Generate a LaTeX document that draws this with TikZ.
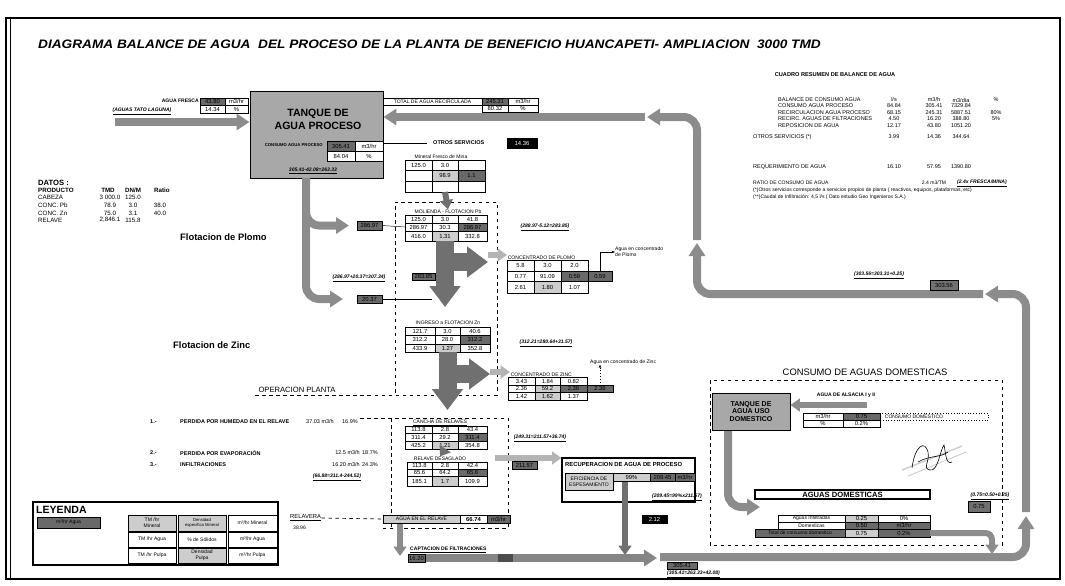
\documentclass[tikz,border=0pt]{standalone}
\usepackage{fontspec}
\setmainfont{Liberation Sans}
\usetikzlibrary{arrows.meta, calc, positioning}
\definecolor{cTanque}{RGB}{168,168,168}
\definecolor{cBanda}{RGB}{140,140,140}
\definecolor{cFlecha}{RGB}{112,112,112}
\definecolor{cOscura}{RGB}{105,105,105}
\definecolor{cClara}{RGB}{205,205,205}
\definecolor{cLuz}{RGB}{180,180,180}
\newcommand{\fa}{\fontsize{5}{5.6}\selectfont}
\newcommand{\fb}{\fontsize{4.3}{4.9}\selectfont}
\newcommand{\fd}{\fontsize{5.3}{6}\selectfont}
\newcommand{\fr}{\fontsize{4.7}{5.3}\selectfont}
\newcommand{\ecu}[1]{\underline{\bfseries\itshape #1}}
% celda de tabla: [estilo]{nombre}{x1}{y1}{x2}{y2}{texto}
\newcommand{\cel}[7][]{%
  \node[celda, #1, minimum width={(#5-#3)*0.3mm}, minimum height={(#6-#4)*0.3mm}]
    (#2) at ({(#3+#5)/2},{(#4+#6)/2}) {#7};}
\tikzset{
  celda/.style={draw, line width=0.35pt, inner sep=0pt, outer sep=0pt,
                font=\fa, align=center},
  oscura/.style={fill=cOscura},
  clara/.style={fill=cClara},
  negra/.style={fill=black, text=white},
  txt/.style={inner sep=0pt, font=\fb, anchor=west},
  ecua/.style={inner sep=0pt, font=\fb},
  tanque/.style={draw, fill=cTanque, line width=0.8pt, inner sep=0pt},
  banda/.style={line width=2.4mm, draw=cBanda,
                -{Triangle[width=4.8mm,length=3.9mm]}, rounded corners=4mm},
  bandaS/.style={line width=1.8mm, draw=cBanda,
                 -{Triangle[width=3.8mm,length=2.8mm]}},
  bandaT/.style={line width=5.4mm, draw=cFlecha,
                 -{Triangle[width=9mm,length=6.3mm]}},
  bandaC/.style={line width=2mm, draw=cLuz,
                 -{Triangle[width=3.8mm,length=2.8mm]}},
  discont/.style={line width=0.6pt, dash pattern=on 3pt off 3pt},
  linea/.style={line width=0.4pt},
}
\begin{document}
\begin{tikzpicture}[x=0.3mm, y=-0.3mm]
\useasboundingbox (0,0) rectangle (1065,585);

%% ============================================================
%% MARCO Y TITULO
%% ============================================================
\draw[line width=1.2pt] (6,18) rectangle (1060,579);
\draw[line width=0.6pt] (10,18) -- (10,579);
\node[anchor=west, inner sep=0pt, font=\fontsize{10.5}{12}\selectfont\bfseries\itshape]
  (titulo) at (38,44)
  {\scalebox{1.11}[1]{DIAGRAMA BALANCE DE AGUA\ \ DEL PROCESO DE LA PLANTA DE BENEFICIO HUANCAPETI- AMPLIACION\ \ 3000 TMD}};

%% ============================================================
%% TANQUE DE AGUA PROCESO
%% ============================================================
\node[tanque, minimum width=39.9mm, minimum height=26.1mm] (tanque) at (316.5,134.5) {};
\node[inner sep=0pt, align=center, font=\fontsize{9}{11}\selectfont\bfseries]
  (tanqueTit) at (318,119) {TANQUE DE\\AGUA PROCESO};
\node[anchor=east, inner sep=0pt, font=\fontsize{3.6}{4}\selectfont\bfseries]
  (consumo) at (323,145) {CONSUMO AGUA PROCESO};
\cel[oscura]{co11}{327}{141}{355}{151}{305.41}
\cel[fill=white]{co12}{355}{141}{383}{151}{m3/hr}
\cel[fill=white]{co21}{327}{151}{355}{161}{84.04}
\cel[fill=white]{co22}{355}{151}{383}{161}{\%}
\node[ecua] (eqTanque) at (313,171) {\ecu{305.41-42.08=263.33}};

% agua fresca
\node[txt, anchor=east, font=\fb\bfseries] (fresca) at (199,101) {AGUA FRESCA};
\cel[oscura]{af11}{200}{98}{225}{105.5}{43.80}
\cel{af12}{225}{98}{248}{105.5}{m3/hr}
\cel{af21}{200}{105.5}{225}{113}{14.34}
\cel{af22}{225}{105.5}{248}{113}{\%}
\node[ecua] (laguna) at (142,111) {\ecu{(AGUAS TATO LAGUNA)}};
\coordinate (afIni) at (115,122);
\draw[banda] (afIni) -- (afIni -| tanque.west);

% agua recirculada
\cel[font=\fb]{rc11}{383}{98}{482}{105}{TOTAL DE AGUA RECIRCULADA}
\cel[oscura]{rc12}{482}{98}{508}{105}{245.31}
\cel{rc13}{508}{98}{538}{105}{m3/hr}
\cel{rc22}{482}{105}{508}{112}{80.32}
\cel{rc23}{508}{105}{538}{112}{\%}

% otros servicios
\coordinate (osFin) at (427,143);
\draw[linea] (osFin -| tanque.east) -- (osFin);
\node[txt, font=\fr\bfseries] (otros) at (433,143) {OTROS SERVICIOS};
\cel[negra]{os1}{507}{138}{537}{148}{14.36}

%% ============================================================
%% DATOS
%% ============================================================
\node[txt, font=\fontsize{6.5}{7}\selectfont\bfseries] (datos) at (38,183) {DATOS :};
\node[txt, font=\fd\bfseries] (producto) at (38,190) {PRODUCTO};
\node[inner sep=0pt, font=\fd\bfseries] (hTmd) at (108,190) {TMD};
\node[inner sep=0pt, font=\fd\bfseries] (hDn) at (133,190) {DN/M};
\node[inner sep=0pt, font=\fd\bfseries] (hRat) at (162,190) {Ratio};
\foreach \nom/\yy/\prod/\tmd/\dn/\rat in
  {cab/197/CABEZA/3 000.0/125.0/, cpb/205/CONC. Pb/78.9/3.0/38.0,
   czn/213/CONC. Zn/75.0/3.1/40.0, rel/220/RELAVE/{2,846.1}/115.8/}{
  \node[txt, font=\fd] (d\nom) at (38,\yy) {\prod};
  \node[inner sep=0pt, font=\fd] (t\nom) at (110,\yy) {\tmd};
  \node[inner sep=0pt, font=\fd] (n\nom) at (133,\yy) {\dn};
  \node[inner sep=0pt, font=\fd] (r\nom) at (160,\yy) {\rat};
}

%% ============================================================
%% CUADRO RESUMEN
%% ============================================================
\node[inner sep=0pt, font=\fontsize{4.8}{5.5}\selectfont\bfseries] (resumen) at (835,75)
  {CUADRO RESUMEN DE BALANCE DE AGUA};
\foreach \nom/\xx/\yy/\lab/\ls/\mh/\md/\pc in
  {s0/778/100/BALANCE DE CONSUMO AGUA/{l/s}/{m3/h}/{m3/día}/\%,
   s1/778/106/CONSUMO AGUA PROCESO/84.84/305.41/7329.84/,
   s2/778/113/RECIRCULACION AGUA PROCESO/68.15/245.31/5887.51/80\%,
   s3/778/119/RECIRC.\ AGUAS DE FILTRACIONES/4.50/16.20/388.80/5\%,
   s4/778/126/REPOSICION DE AGUA/12.17/43.80/1051.20/,
   s5/753/137/OTROS SERVICIOS (*)/3.99/14.36/344.64/,
   s6/753/167/REQUERIMIENTO DE AGUA/16.10/57.95/1390.80/}{
  \node[txt, font=\fr] (\nom a) at (\xx,\yy) {\lab};
  \node[inner sep=0pt, font=\fr] (\nom b) at (894,\yy) {\ls};
  \node[inner sep=0pt, font=\fr] (\nom c) at (934,\yy) {\mh};
  \node[inner sep=0pt, font=\fr] (\nom d) at (961,\yy) {\md};
  \node[inner sep=0pt, font=\fr] (\nom e) at (996,\yy) {\pc};
}
\node[txt] (ratio) at (753,183) {RATIO DE CONSUMO DE AGUA};
\node[inner sep=0pt, font=\fb] (ratioV) at (934,183) {2.4 m3/TM};
\node[ecua, anchor=west] (ratioE) at (957,183) {\ecu{(2.4x FRESCA/MINA)}};
\node[txt] (nota1) at (753,190)
  {(*)Otros servicios corresponde a servicios propios de planta ( reactivos, equipos, plataformas, etc)};
\node[txt] (nota2) at (753,197)
  {(**)Caudal de Infiltración: 4,5 l/s ( Dato estudio Geo Ingenieros S.A.)};

%% ============================================================
%% RECIRCULACION (banda grande)
%% ============================================================
\coordinate (sA0) at (660,557);  \coordinate (sA1) at (1026,557); \coordinate (sA2) at (1026,516);
\coordinate (sB0) at (1026,512); \coordinate (sB1) at (1026,294); \coordinate (sB2) at (985,294);
\coordinate (sC0) at (983,294);  \coordinate (sC1) at (697,294);  \coordinate (sC2) at (697,243);
\coordinate (sD0) at (697,240);  \coordinate (sD1) at (697,117);  \coordinate (sD2) at (647,117);
\coordinate (sE0) at (645,117);
\draw[banda] (sA0) -- (sA1) -- (sA2);
\draw[banda] (sB0) -- (sB1) -- (sB2);
\draw[banda] (sC0) -- (sC1) -- (sC2);
\draw[banda] (sD0) -- (sD1) -- (sD2);
\draw[banda] (sE0) -- (sE0 -| tanque.east);
\node[ecua] (eqRec) at (879,275) {\ecu{(303.56=303.31+0.25)}};
\cel[fill=cFlecha]{rb1}{930}{280}{958}{290}{303.56}
\node[ecua] (eqDom) at (990,496) {\ecu{(0.75=0.50+0.25)}};
\cel[fill=cFlecha]{db1}{968}{501}{990}{512}{0.75}

%% ============================================================
%% FLOTACION DE PLOMO
%% ============================================================
\node[txt, font=\fontsize{8}{9}\selectfont\bfseries] (fPb) at (180,237) {Flotacion de Plomo};
\node[txt, font=\fontsize{8}{9}\selectfont\bfseries] (fZn) at (173,345) {Flotacion de Zinc};
\draw[discont] (255,395) -- (497,395) -- (497,202) -- (395,202) -- (395,395);
\node[inner sep=0pt, font=\fontsize{6.5}{7}\selectfont] (opPlanta) at (297,390) {OPERACION PLANTA};

\node[inner sep=0pt, font=\fb] (mineral) at (441,157) {Mineral Fresco de Mina};
\cel{mf11}{405}{160}{432}{170}{125.0}
\cel{mf12}{432}{160}{458}{170}{3.0}
\cel{mf13}{458}{160}{485}{170}{}
\cel{mf21}{405}{170}{432}{181}{}
\cel[clara]{mf22}{432}{170}{458}{181}{98.9}
\cel[oscura]{mf23}{458}{170}{485}{181}{1.1}
\cel{mf31}{405}{181}{432}{192}{}
\cel{mf32}{432}{181}{458}{192}{}
\cel{mf33}{458}{181}{485}{192}{}

\node[inner sep=0.5pt, font=\fb] (moli) at (448,212) {MOLIENDA - FLOTACION Pb};
\draw[bandaS, draw=cFlecha] (mf32.south) -- (moli.north);
\cel{mo11}{405}{215}{432}{223}{125.0}
\cel{mo12}{432}{215}{458}{223}{3.0}
\cel{mo13}{458}{215}{487}{223}{41.8}
\cel{mo21}{405}{223}{432}{231}{286.97}
\cel{mo22}{432}{223}{458}{231}{30.3}
\cel[oscura]{mo23}{458}{223}{487}{231}{286.97}
\cel{mo31}{405}{231}{432}{241}{416.0}
\cel[clara]{mo32}{432}{231}{458}{241}{1.31}
\cel{mo33}{458}{231}{487}{241}{332.8}

% bajada desde el tanque
\coordinate (b0) at (306,178);
\coordinate (b1) at (306,212);
\coordinate (b2) at (306,299);
\cel[oscura]{bx1}{357}{221}{382}{230}{286.97}
\cel[oscura]{bx2}{357}{295}{382}{303}{20.37}
\draw[banda] (b1) -- (b1 |- bx1) -- ($(bx1.west)+(-8,0)$);
\draw[banda] (b0) -- (b2) -- ($(bx2.west |- b2)+(-14,0)$);
\draw[linea] (bx1.east) -- (mo21.west);
\node[ecua] (eqPb1) at (359,278) {\ecu{(286.97+20.37=307.34)}};
\cel[oscura]{desc}{412}{273}{435}{280}{283.85}

% flecha T plomo
\coordinate (tpbB) at (445,307);
\coordinate (tpbC) at (445,262);
\coordinate (tpbD) at (488,262);
\draw[bandaT] (tpbC) -- (tpbD);
\draw[bandaT] (mo32.south) -- (tpbB);
\draw[linea] (bx2.east) -- (bx2.east -| mo31.east);

% concentrado de plomo
\node[anchor=south west, inner sep=0.5pt, font=\fb] (cpTit) at (507,260) {CONCENTRADO DE PLOMO};
\coordinate (cpa) at (488,255);
\draw[bandaC] (cpa) -- (cpa -| cpTit.west);
\cel{pc11}{507}{260}{534}{271}{5.8}
\cel{pc12}{534}{260}{561}{271}{3.0}
\cel{pc13}{561}{260}{588}{271}{2.0}
\cel{pc21}{507}{271}{534}{281}{0.77}
\cel{pc22}{534}{271}{561}{281}{91.09}
\cel[oscura]{pc23}{561}{271}{588}{281}{0.59}
\cel[oscura]{pc24}{588}{271}{612}{281}{0.59}
\cel{pc31}{507}{281}{534}{293}{2.61}
\cel[clara]{pc32}{534}{281}{561}{293}{1.80}
\cel{pc33}{561}{281}{588}{293}{1.07}
\node[txt, align=left] (aguaPb) at (615,252) {Agua en concentrado\\de Plomo};
\draw[linea, -{Stealth[length=3pt]}] (pc24.north) |- (aguaPb.west);
\node[ecua] (eqPb2) at (545,227) {\ecu{(288.97-5.12=283.85)}};

%% ============================================================
%% FLOTACION DE ZINC
%% ============================================================
\node[inner sep=0.5pt, font=\fb] (znTit) at (448,323) {INGRESO a FLOTACION Zn};
\cel{zn11}{405}{327}{435}{335}{121.7}
\cel{zn12}{435}{327}{460}{335}{3.0}
\cel{zn13}{460}{327}{490}{335}{40.6}
\cel{zn21}{405}{335}{435}{344}{312.2}
\cel{zn22}{435}{335}{460}{344}{28.0}
\cel[oscura]{zn23}{460}{335}{490}{344}{312.2}
\cel{zn31}{405}{344}{435}{352}{433.9}
\cel[clara]{zn32}{435}{344}{460}{352}{1.27}
\cel{zn33}{460}{344}{490}{352}{352.8}
\coordinate (tznB) at (447.5,410);
\coordinate (tznC) at (447.5,374);
\coordinate (tznD) at (490,374);
\draw[bandaT] (tznC) -- (tznD);
\draw[bandaT] (zn32.south) -- (tznB);
\node[ecua] (eqZn1) at (546,343) {\ecu{(312.21=280.64+31.57)}};

\node[anchor=south west, inner sep=0.5pt, font=\fb] (czTit) at (510,377) {CONCENTRADO DE ZINC};
\coordinate (cza) at (490,372);
\draw[bandaC] (cza) -- (cza -| czTit.west);
\cel{zc11}{508}{377}{535}{385}{3.43}
\cel{zc12}{535}{377}{560}{385}{1.84}
\cel{zc13}{560}{377}{587}{385}{0.82}
\cel{zc21}{508}{385}{535}{392}{2.36}
\cel[clara]{zc22}{535}{385}{560}{392}{59.2}
\cel[oscura]{zc23}{560}{385}{587}{392}{2.36}
\cel[oscura]{zc24}{587}{385}{613}{392}{2.36}
\cel{zc31}{508}{392}{535}{400}{1.42}
\cel[clara]{zc32}{535}{392}{560}{400}{1.62}
\cel{zc33}{560}{392}{587}{400}{1.37}
\node[txt] (aguaZn) at (590,362) {Agua en concentrado de Zinc};
\draw[linea, dotted, -{Stealth[length=3pt]}] (zc24.north) -- (zc24.north |- aguaZn.south);

%% ============================================================
%% CANCHA DE RELAVES
%% ============================================================
\draw[discont] (360,418) -- (508,418) -- (508,528) -- (383,528);
\draw[discont] (391,418) -- (391,528);
\node[inner sep=0.5pt, font=\fb] (caTit) at (440,423) {\underline{CANCHA DE RELAVES}};
\cel{ca11}{405}{426}{432}{433}{113.8}
\cel{ca12}{432}{426}{458}{433}{2.8}
\cel{ca13}{458}{426}{487}{433}{43.4}
\cel{ca21}{405}{433}{432}{441}{311.4}
\cel{ca22}{432}{433}{458}{441}{29.2}
\cel[oscura]{ca23}{458}{433}{487}{441}{311.4}
\cel{ca31}{405}{441}{432}{449}{425.2}
\cel[clara]{ca32}{432}{441}{458}{449}{1.21}
\cel{ca33}{458}{441}{487}{449}{354.8}
\node[ecua] (eqCa) at (540,438) {\ecu{(249.31=211.57+36.74)}};

\node[inner sep=0.5pt, font=\fb] (rdTit) at (440,459) {RELAVE DESAGLADO};
\draw[bandaS, draw=cFlecha] (ca32.south) -- (rdTit.north);
\cel{rd11}{407}{462}{432}{469}{113.8}
\cel{rd12}{432}{462}{458}{469}{2.8}
\cel{rd13}{458}{462}{487}{469}{42.4}
\cel{rd21}{407}{469}{432}{476}{65.6}
\cel{rd22}{432}{469}{458}{476}{64.2}
\cel[oscura]{rd23}{458}{469}{487}{476}{65.6}
\cel{rd31}{407}{476}{432}{486}{185.1}
\cel[clara]{rd32}{432}{476}{458}{486}{1.7}
\cel{rd33}{458}{476}{487}{486}{109.9}

\cel[clara, font=\fb]{ar1}{383}{515}{460}{523}{AGUA EN EL RELAVE}
\cel[font=\fa\bfseries]{ar2}{460}{515}{487}{523}{66.74}
\cel[oscura]{ar3}{487}{515}{510}{523}{m3/hr}
\node[txt, font=\fa] (relavera) at (290,518) {\underline{RELAVERA}};
\draw[discont] (relavera.east) -- (ar1.west);
\node[txt] (relPc) at (293,528) {38.96};

% perdidas
\foreach \nom/\yy/\num/\lab/\val/\vx/\pc/\px in
  {p1/422/1.-/PERDIDA POR HUMEDAD EN EL RELAVE/{37.03 m3/h}/334/16.9\%/358,
   p2/453/2.-/PERDIDA POR EVAPORACIÓN/{12.5 m3/h}/360/18.7\%/378,
   p3/465/3.-/INFILTRACIONES/{16.20 m3/h}/360/24.3\%/378}{
  \node[txt, font=\fr\bfseries] (\nom n) at (150,\yy) {\num};
  \node[txt, font=\fr\bfseries] (\nom t) at (180,\yy) {\lab};
  \node[txt, font=\fr, anchor=east] (\nom v) at (\vx,\yy) {\val};
  \node[txt, font=\fr, anchor=east] (\nom p) at (\px,\yy) {\pc};
}
\node[ecua] (eqPer) at (337,477) {\ecu{(66.88=311.4-244.52)}};

%% ============================================================
%% RECUPERACION DE AGUA DE PROCESO
%% ============================================================
\node[draw, line width=1pt, fill=white, minimum width=39.9mm, minimum height=13.2mm,
      inner sep=0pt] (rec) at (628.5,480) {};
\node[txt, font=\fa\bfseries] (recTit) at (565,464) {RECUPERACION DE AGUA DE PROCESO};
\cel[clara, font=\fb]{ef1}{565}{473}{613}{490}{EFICIENCIA DE\\ESPESAMIENTO}
\cel[clara]{re1}{613}{473}{650}{481}{99\%}
\cel[oscura]{re2}{650}{473}{675}{481}{209.45}
\cel[oscura]{re3}{675}{473}{695}{481}{m3/hr}
\node[ecua, anchor=east] (eqRe) at (702,497) {\ecu{(209.45=99\%x211.57)}};
\coordinate (raA) at (495,458);
\draw[bandaC] (raA) -- (raA -| rec.west);
\cel[oscura]{ra1}{512}{461}{537}{469}{211.57}
\coordinate (baA) at (625,482);
\coordinate (baB) at (625,555);
\draw[bandaS, draw=cFlecha] (baA) -- (baB);
\cel[negra]{rn1}{642}{515}{667}{523}{2.12}

% captacion de filtraciones
\coordinate (capA) at (400,524);
\coordinate (capB) at (400,556);
\draw[bandaS] (capA) -- (capB);
\coordinate (cfA) at (408,558);
\coordinate (cfB) at (657,558);
\draw[banda, draw=cFlecha!85] (cfA) -- (cfB);
\node[anchor=south west, inner sep=0pt, font=\fb\bfseries] (capTit) at (410,553)
  {\underline{CAPTACION DE FILTRACIONES}};
\cel[oscura]{cf1}{408}{554}{425}{562}{16.20}
\cel[fill=black!70, draw=none]{cf2}{498}{554}{513}{562}{}
\cel[oscura]{cc1}{667}{562}{697}{569}{305.41}
\node[ecua, anchor=west] (eqCc) at (667,574) {\ecu{(305.41=263.33+42.08)}};

%% ============================================================
%% CONSUMO DE AGUAS DOMESTICAS
%% ============================================================
\draw[discont] (710,380) rectangle (1002,545);
\node[inner sep=0pt, font=\fontsize{8}{9}\selectfont] (domTit) at (865,372)
  {CONSUMO DE AGUAS DOMESTICAS};
\node[tanque, minimum width=23.4mm, minimum height=11.1mm] (tqDom) at (751,411.5) {};
\node[inner sep=0pt, align=center, font=\fontsize{6}{6.6}\selectfont\bfseries]
  (tqDomTit) at (751,411.5) {TANQUE DE\\AGUA USO\\DOMESTICO};
\node[inner sep=0pt, font=\fb\bfseries] (alsacia) at (846,395) {AGUA DE ALSACIA I y II};
\coordinate (alA) at (867,405);
\draw[bandaS] (alA) -- (alA -| tqDom.east);
\cel{td11}{803}{413}{843}{420}{m3/hr}
\cel[oscura]{td12}{843}{413}{880}{420}{0.75}
\cel[dotted, line width=0.8pt, font=\fb]{td13}{880}{413}{988}{420}{CONSUMO DOMESTICO\hspace{12mm}}
\cel{td21}{803}{420}{843}{427}{\%}
\cel{td22}{843}{420}{880}{427}{0.2\%}

\coordinate (dA) at (728,431);
\coordinate (dB) at (728,507);
\coordinate (dC) at (760,507);
\draw[banda] (dA) -- (dB) -- (dC);
\node[draw, line width=1.2pt, fill=white, minimum width=52.5mm, minimum height=2.7mm,
      inner sep=0pt, font=\fontsize{6.5}{7}\selectfont\bfseries] (aguasDom) at (842.5,494.5)
  {AGUAS DOMESTICAS};
\cel[font=\fb]{tb11}{778}{515}{845}{522}{Aguas Infiltradas}
\cel[clara]{tb12}{845}{515}{878}{522}{0.25}
\cel{tb13}{878}{515}{930}{522}{0\%}
\cel[font=\fb]{tb21}{778}{522}{845}{529}{Domesticas}
\cel[oscura]{tb22}{845}{522}{878}{529}{0.50}
\cel[oscura]{tb23}{878}{522}{930}{529}{m3/hr}
\cel[oscura, font=\fb]{tb31}{755}{529}{845}{537}{Total de consumo domestico}
\cel[clara]{tb32}{845}{529}{878}{537}{0.75}
\cel[oscura]{tb33}{878}{529}{930}{537}{0.2\%}
\coordinate (eA) at (992,533);
\coordinate (eB) at (992,554);
\draw[bandaS, rounded corners=2mm] (tb33.east) -- (eA) -- (eB);

% firma
\draw[cClara, line width=1.2pt] (902,470) -- (962,446);
\draw[cClara, line width=0.8pt] (908,476) -- (966,452);
\draw[line width=0.5pt] (912,468) .. controls (915,445) and (925,440) .. (928,452)
  .. controls (930,462) and (922,468) .. (930,470)
  .. controls (938,472) and (940,450) .. (944,445)
  .. controls (946,455) and (946,465) .. (952,462);
\draw[line width=0.5pt] (918,462) .. controls (930,455) and (940,458) .. (948,452);

%% ============================================================
%% LEYENDA
%% ============================================================
\draw[line width=0.9pt] (33,502) rectangle (278,565);
\node[txt, font=\fontsize{9}{10}\selectfont\bfseries] (leyenda) at (36,510) {LEYENDA};
\cel[oscura, font=\fb]{lg0}{37}{517}{100}{528}{m³/hr Agua}
\cel[clara, font=\fb]{lg11}{128}{515}{176}{531}{TM /hr\\Mineral}
\cel[clara, font=\fontsize{3.6}{4}\selectfont]{lg12}{178}{515}{226}{531}{Densidad\\específica Mineral}
\cel[font=\fb]{lg13}{228}{515}{277}{531}{m³/hr Mineral}
\cel[font=\fb]{lg21}{128}{532}{176}{547}{TM /hr Agua}
\cel[font=\fb]{lg22}{178}{532}{226}{547}{\% de Sólidos}
\cel[font=\fb]{lg23}{228}{532}{277}{547}{m³/hr Agua}
\cel[font=\fb]{lg31}{128}{548}{176}{563}{TM /hr Pulpa}
\cel[clara, font=\fb]{lg32}{178}{548}{226}{563}{Densidad\\Pulpa}
\cel[font=\fb]{lg33}{228}{548}{277}{563}{m³/hr Pulpa}

\end{tikzpicture}
\end{document}
